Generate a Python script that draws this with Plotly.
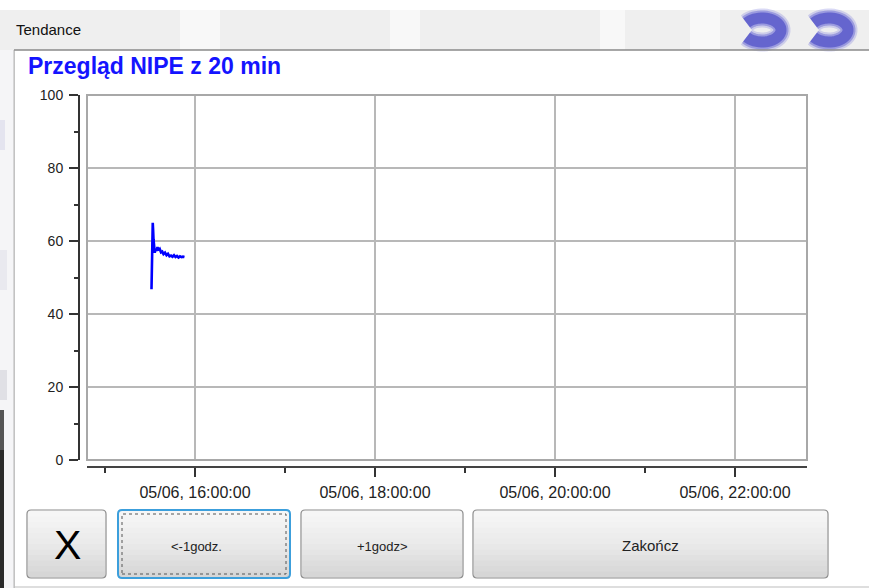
import numpy as np
import plotly.graph_objects as go

# ---------------- data ----------------
times = [
    "2017-06-05 15:31:00", "2017-06-05 15:31:20", "2017-06-05 15:31:40", "2017-06-05 15:31:50",
    "2017-06-05 15:32:05", "2017-06-05 15:32:20", "2017-06-05 15:32:35", "2017-06-05 15:32:50",
    "2017-06-05 15:33:10", "2017-06-05 15:33:40", "2017-06-05 15:34:20", "2017-06-05 15:35:00",
    "2017-06-05 15:35:40", "2017-06-05 15:36:30", "2017-06-05 15:37:20", "2017-06-05 15:38:10",
    "2017-06-05 15:39:00", "2017-06-05 15:40:00", "2017-06-05 15:41:00", "2017-06-05 15:42:00",
    "2017-06-05 15:43:00", "2017-06-05 15:44:00", "2017-06-05 15:45:00", "2017-06-05 15:46:00",
    "2017-06-05 15:47:00", "2017-06-05 15:48:00", "2017-06-05 15:49:00", "2017-06-05 15:50:00",
    "2017-06-05 15:51:00", "2017-06-05 15:52:00", "2017-06-05 15:53:00",
]
nipe_values = [
    46.8, 52.0, 56.5, 65.0,
    63.0, 60.5, 58.0, 59.2,
    56.8, 57.9, 57.3, 58.3,
    57.4, 57.8, 56.9, 57.1,
    56.4, 56.8, 56.1, 56.5,
    55.8, 56.0, 55.7, 56.1,
    55.6, 55.9, 55.5, 55.8,
    55.6, 55.7, 55.6,
]
x_range = ["2017-06-05 14:48:00", "2017-06-05 22:48:00"]
x_major_ticks = ["2017-06-05 16:00:00", "2017-06-05 18:00:00",
                 "2017-06-05 20:00:00", "2017-06-05 22:00:00"]
y_ticks = [0, 20, 40, 60, 80, 100]

window_title = "Tendance"
chart_title = "Przegląd NIPE z 20 min"
button_labels = ["X", "<-1godz.", "+1godz>", "Zakończ"]

# ---------------- layout helpers ----------------
W, H = 869, 588
FONT = "Liberation Sans, Arial, sans-serif"


def px(x):
    return x / W


def py(y):
    return 1 - y / H


shapes = []
annotations = []


def rect(x0, y0, x1, y1, fill=None, line=None, lw=1, dash=None, layer="below"):
    shapes.append(dict(type="rect", xref="paper", yref="paper",
                       x0=px(x0), x1=px(x1), y0=py(y1), y1=py(y0),
                       fillcolor=fill or "rgba(0,0,0,0)",
                       line=dict(color=line or "rgba(0,0,0,0)", width=lw if line else 0,
                                 dash=dash or "solid"),
                       layer=layer))


def rounded_path(x0, y0, x1, y1, r):
    pts = [
        f"M{px(x0 + r)},{py(y0)}",
        f"L{px(x1 - r)},{py(y0)}",
        f"Q{px(x1)},{py(y0)} {px(x1)},{py(y0 + r)}",
        f"L{px(x1)},{py(y1 - r)}",
        f"Q{px(x1)},{py(y1)} {px(x1 - r)},{py(y1)}",
        f"L{px(x0 + r)},{py(y1)}",
        f"Q{px(x0)},{py(y1)} {px(x0)},{py(y1 - r)}",
        f"L{px(x0)},{py(y0 + r)}",
        f"Q{px(x0)},{py(y0)} {px(x0 + r)},{py(y0)}",
        "Z",
    ]
    return " ".join(pts)


def lerp_color(c0, c1, t):
    return "rgb(%d,%d,%d)" % tuple(int(round(a + (b - a) * t)) for a, b in zip(c0, c1))


def button(x0, y0, x1, y1, border="#8c8c8c", bw=1.2):
    n = 12
    top, mid, bot = (246, 246, 246), (234, 234, 234), (214, 214, 214)
    for i in range(n):
        t = i / (n - 1)
        c = lerp_color(top, mid, t * 2) if t < 0.5 else lerp_color(mid, bot, (t - 0.5) * 2)
        ya = y0 + 1 + (y1 - y0 - 2) * i / n
        yb = y0 + 1 + (y1 - y0 - 2) * (i + 1) / n
        rect(x0 + 1, ya, x1 - 1, yb + 0.5, fill=c)
    shapes.append(dict(type="path", xref="paper", yref="paper",
                       path=rounded_path(x0, y0, x1, y1, 4),
                       line=dict(color=border, width=bw), fillcolor="rgba(0,0,0,0)",
                       layer="below"))


# ---- window chrome ----
rect(0, 10, W, 50, fill="#efefef")
for sx, sw in [(180, 40), (390, 30), (600, 25), (690, 30)]:
    rect(sx, 10, sx + sw, 50, fill="rgba(255,255,255,0.55)")
# blurred blue logo (two reversed C shapes)
for cx in (762, 829):
    ang = np.linspace(0.8 * np.pi, -0.8 * np.pi, 40)
    rx, ry = 19, 12
    pts = [(cx + rx * np.cos(a), 30 - ry * np.sin(a)) for a in ang]
    path = "M" + " L".join(f"{px(a)},{py(b)}" for a, b in pts)
    for w_, col in [(19, "rgba(120,120,220,0.28)"), (15, "rgba(95,95,210,0.45)"),
                    (11, "rgba(78,78,198,0.70)")]:
        shapes.append(dict(type="path", xref="paper", yref="paper", path=path,
                           line=dict(color=col, width=w_), layer="below"))

# window border
shapes.append(dict(type="line", xref="paper", yref="paper", x0=px(14), x1=px(W), y0=py(50), y1=py(50),
                   line=dict(color="#8a8a8a", width=1.5), layer="below"))
shapes.append(dict(type="line", xref="paper", yref="paper", x0=px(14), x1=px(14), y0=py(50), y1=py(H),
                   line=dict(color="#9a9a9a", width=1.2), layer="below"))
shapes.append(dict(type="line", xref="paper", yref="paper", x0=px(14), x1=px(W), y0=py(587), y1=py(587),
                   line=dict(color="#bdbdbd", width=1.2), layer="below"))
# left backdrop strip
rect(0, 50, 13.4, H, fill="#f5f5f7")
rect(0, 120, 5, 150, fill="rgba(170,170,215,0.22)")
rect(0, 250, 7, 290, fill="rgba(190,190,215,0.22)")
rect(0, 370, 7, 400, fill="rgba(150,150,170,0.22)")
rect(0, 410, 4, H, fill="#555555")
rect(0, 450, 4, H, fill="#2a2a2a")

# ---- buttons ----
button(27, 510, 106, 578)
button(118, 510, 290, 578, border="#3c9fdc", bw=2)
shapes.append(dict(type="rect", xref="paper", yref="paper",
                   x0=px(122), x1=px(286), y0=py(574), y1=py(514),
                   line=dict(color="#555555", width=1, dash="dot"), fillcolor="rgba(0,0,0,0)",
                   layer="below"))
button(301, 510, 463, 578)
button(473, 510, 828, 578)

annotations.append(dict(text=window_title, x=px(14), y=py(30), xref="paper", yref="paper",
                        xanchor="left", yanchor="middle", showarrow=False,
                        font=dict(family=FONT, size=15, color="#111111")))
annotations.append(dict(text="<b>%s</b>" % chart_title, x=px(26), y=py(66), xref="paper", yref="paper",
                        xanchor="left", yanchor="middle", showarrow=False,
                        font=dict(family=FONT, size=23, color="#1414ff")))
btn_centers = [(67, 545, 41), (196, 546, 13), (382, 546, 13), (650, 545, 15)]
for lab, (bx, by, fs) in zip(button_labels, btn_centers):
    annotations.append(dict(text=lab, x=px(bx), y=py(by), xref="paper", yref="paper",
                            xanchor="center", yanchor="middle", showarrow=False,
                            font=dict(family=FONT, size=fs, color="#000000" if lab == "X" else "#222222")))

# plot frame
shapes.append(dict(type="rect", xref="x domain", yref="y domain", x0=0, x1=1, y0=0, y1=1,
                   line=dict(color="#a8a8a8", width=2), fillcolor="rgba(0,0,0,0)", layer="above"))

fig = go.Figure()
fig.add_trace(go.Scatter(x=times, y=nipe_values, mode="lines",
                         line=dict(color="#0000ff", width=2.6), hoverinfo="x+y", showlegend=False))

fig.update_layout(
    template="none",
    width=W, height=H,
    margin=dict(l=0, r=0, t=0, b=0, pad=0),
    paper_bgcolor="#ffffff",
    plot_bgcolor="rgba(0,0,0,0)",
    showlegend=False,
    shapes=shapes,
    annotations=annotations,
    xaxis=dict(
        domain=[px(87), px(807)], type="date", range=x_range,
        anchor="free", position=py(467),
        showline=True, linecolor="#444444", linewidth=2,
        ticks="outside", ticklen=9, tickwidth=1.5, tickcolor="#333333",
        tickvals=x_major_ticks, tickformat="%d/%m, %H:%M:%S",
        tickfont=dict(family=FONT, size=16, color="#222222"),
        ticklabelstandoff=2,
        minor=dict(ticks="outside", ticklen=5, tickwidth=1.5, tickcolor="#333333",
                   dtick=3600000, tick0="2017-06-05 15:00:00", showgrid=False),
        showgrid=True, gridcolor="#b8b8b8", gridwidth=2,
        zeroline=False, fixedrange=True,
    ),
    yaxis=dict(
        domain=[py(460), py(95)], range=[0, 100],
        anchor="free", position=px(79),
        showline=True, linecolor="#333333", linewidth=2,
        ticks="outside", ticklen=9, tickwidth=1.5, tickcolor="#333333",
        tickvals=y_ticks,
        tickfont=dict(family=FONT, size=14, color="#222222"),
        ticklabelstandoff=3,
        minor=dict(ticks="outside", ticklen=4, tickwidth=1.5, tickcolor="#333333",
                   dtick=10, tick0=0, showgrid=False),
        showgrid=True, gridcolor="#b8b8b8", gridwidth=2,
        zeroline=False, fixedrange=True,
    ),
)

fig.write_html("out.html", config={"displayModeBar": False},
               post_script="document.body.style.margin='0';")
